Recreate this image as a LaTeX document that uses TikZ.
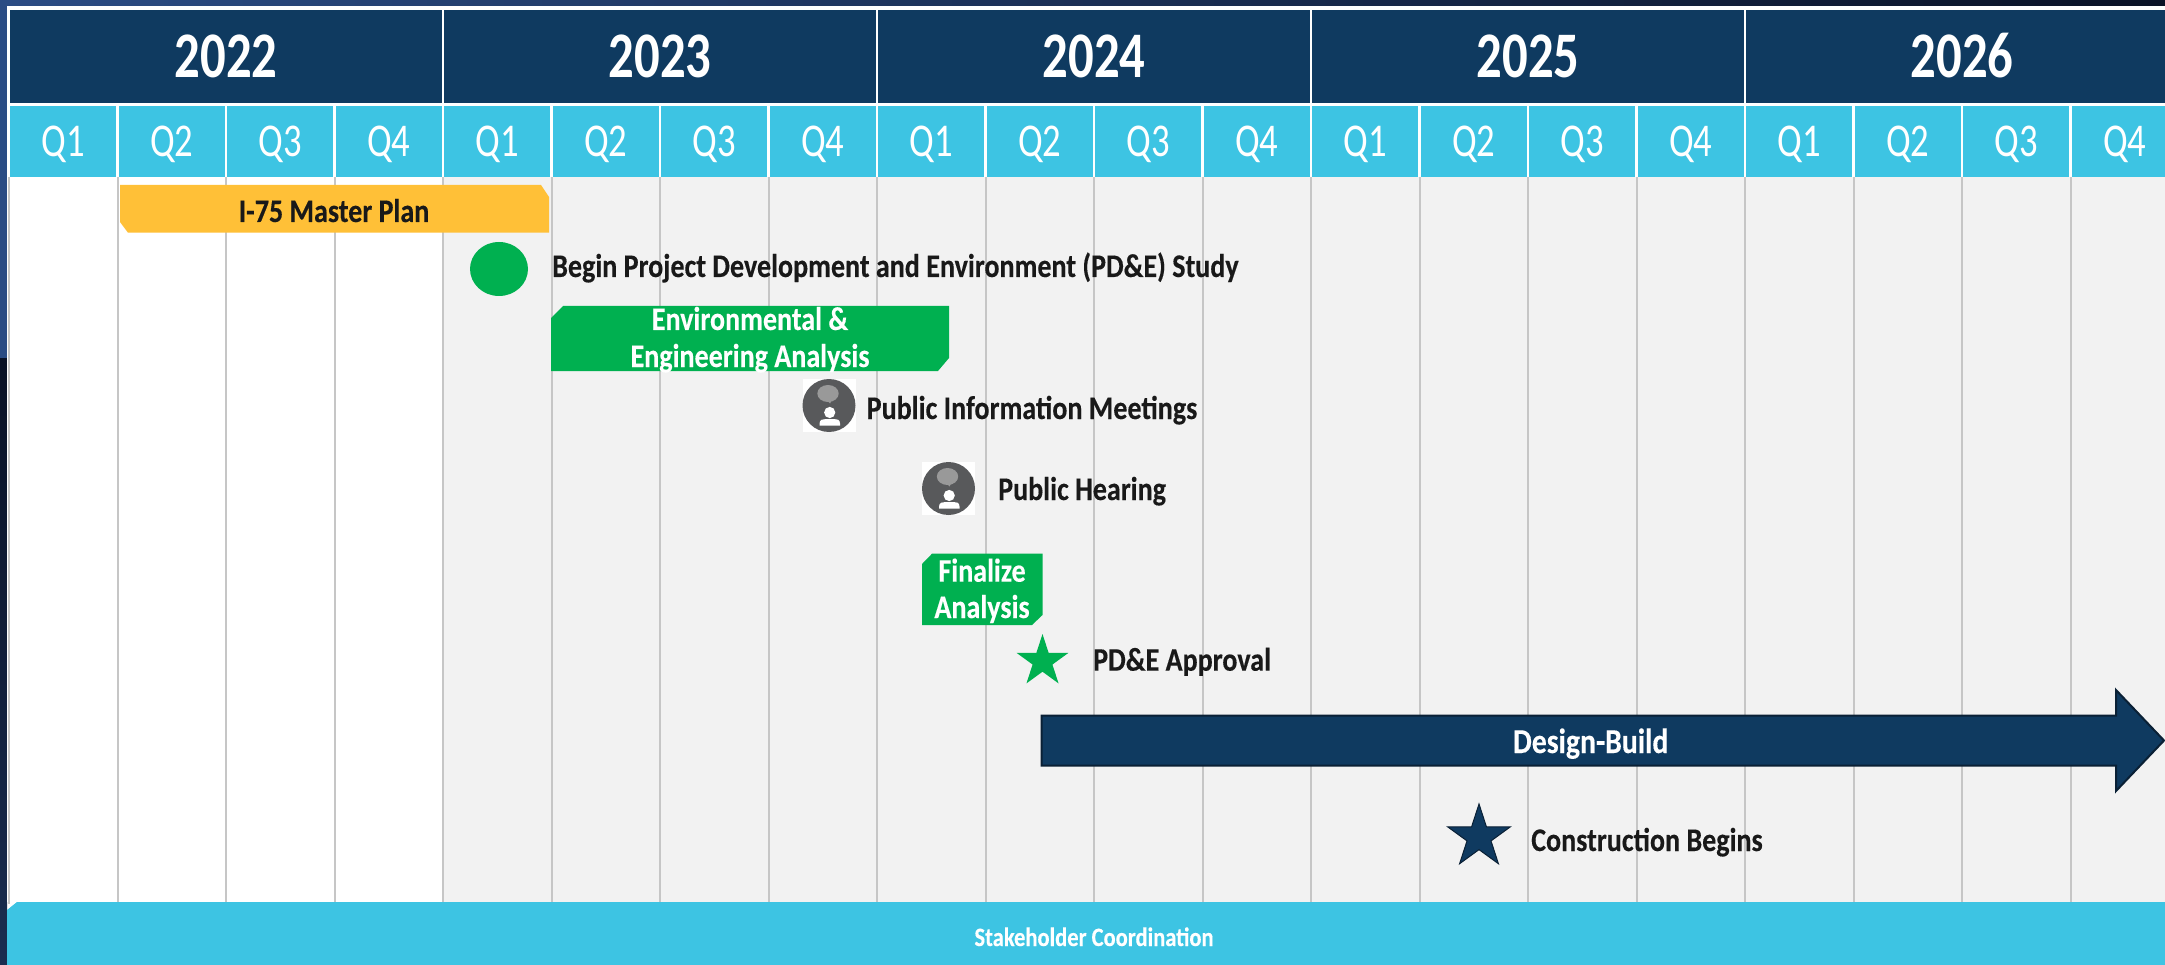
\documentclass[tikz,border=0pt]{standalone}
\usepackage{fontspec}
\usetikzlibrary{shapes.geometric}
\newfontfamily\cf[FakeStretch=0.78]{Carlito}
\newfontfamily\cfb[FakeStretch=0.85,FakeBold=0.25]{Carlito}
\definecolor{navy}{HTML}{0F3A60}
\definecolor{navyedge}{HTML}{0A2035}
\definecolor{sky}{HTML}{3DC4E3}
\definecolor{grn}{HTML}{00B050}
\definecolor{amber}{HTML}{FFC037}
\definecolor{pane}{HTML}{F2F2F2}
\definecolor{gridc}{HTML}{C6C6C6}
\definecolor{icon}{HTML}{58595B}
\definecolor{deskblue}{HTML}{2B4C84}
\definecolor{deskdark}{HTML}{0A1226}
\definecolor{deskmid}{HTML}{1A2D50}
\tikzset{
  yearlab/.style={text=white,inner sep=0,anchor=base,font=\cf\bfseries\fontsize{65}{70}\selectfont},
  qlab/.style={text=white,inner sep=0,anchor=base,font=\cf\fontsize{47}{50}\selectfont},
  dark/.style={text=black!90,inner sep=0,anchor=base west,font=\cfb\bfseries\fontsize{33}{36}\selectfont},
  lite/.style={text=white,inner sep=0,anchor=base,font=\cfb\bfseries\fontsize{33}{36}\selectfont},
  speaker/.pic={
    \fill[white] (-26.5,-26.5) rectangle (26.5,26.5);
    \fill[icon] (0,0) circle (26.5);
    \fill[black!40] (-1,-12) ellipse (10.7 and 8.5);
    \fill[black!40] (-3,-6) -- (1,-2) -- (3,-6) -- cycle;
    \fill[white] (0.7,7) circle (5.6);
    \fill[white] (-9.5,20) -- (-9.5,18) .. controls (-9.5,14) and (-6,13.5) .. (-3,13.5) -- (5,13.5) .. controls (8,13.5) and (11,14) .. (11,18) -- (11,20) -- cycle;
  }
}
\begin{document}
\begin{tikzpicture}[x=1pt,y=-1pt]
\useasboundingbox (0,0) rectangle (2165,965);
% backdrop
\shade[left color=deskblue,right color=deskdark] (0,0) rectangle (2165,6);
\fill[deskblue] (0,6) rectangle (7,359);
\shade[top color=deskdark,bottom color=deskmid] (0,359) rectangle (7,965);
% panes
\fill[white] (7,6) rectangle (2165,902);
\fill[pane] (443,177) rectangle (2165,902);
% grid lines
\foreach \k in {0,...,19}{
  \pgfmathsetmacro{\xk}{9+108.5*\k}
  \draw[gridc,line width=2] (\xk,177) -- (\xk,904);
}
% quarter cells
\foreach \k in {0,...,19}{
  \pgfmathsetmacro{\xa}{9+108.5*\k+1.2}
  \pgfmathsetmacro{\xb}{min(9+108.5*(\k+1)-1.2,2165)}
  \pgfmathsetmacro{\xc}{9+108.5*(\k+.5)}
  \pgfmathtruncatemacro{\qn}{mod(\k,4)+1}
  \fill[sky] (\xa,106) rectangle (\xb,177);
  \node[qlab] (q\k) at (\xc,157) {Q\qn};
}
% year cells
\foreach \y [count=\i from 0] in {2022,2023,2024,2025,2026}{
  \pgfmathsetmacro{\xa}{9+434*\i+1.2}
  \pgfmathsetmacro{\xb}{min(9+434*(\i+1)-1.2,2165)}
  \pgfmathsetmacro{\xc}{9+434*(\i+.5)}
  \fill[navy] (\xa,10) rectangle (\xb,103);
  \node[yearlab] (y\y) at (\xc,78) {\y};
}
% I-75 Master Plan
\fill[amber] (120,185) -- (541,185) -- (549,197) -- (549,232.7) -- (128,232.7) -- (120,222) -- cycle;
\node[dark,anchor=base] (plan) at (334,222) {I-75 Master Plan};
% begin study
\fill[grn] (499,269) ellipse (29 and 27);
\node[dark] (begin) at (552,277) {Begin Project Development and Environment (PD\&E) Study};
% env bar
\fill[grn] (563,306) -- (949,306) -- (949,358) -- (938,371) -- (551,371) -- (551,318) -- cycle;
\node[lite] (env1) at (750,330) {Environmental \&};
\node[lite] (env2) at (750,367) {Engineering Analysis};
% meetings
\pic at (829,405.5) {speaker};
\node[dark] (pim) at (866.5,419) {Public Information Meetings};
\pic at (948.5,488.5) {speaker};
\node[dark] (hear) at (998,500) {Public Hearing};
% finalize
\fill[grn] (932,553.7) -- (1042.5,553.7) -- (1042.5,615) -- (1032,625) -- (922,625) -- (922,564) -- cycle;
\node[lite] (fin1) at (982,581.7) {Finalize};
\node[lite] (fin2) at (982,618) {Analysis};
% approval
\node[star,star points=5,star point ratio=2.618,fill=grn,inner sep=0,minimum size=54.6] (appr) at (1042.5,661.3) {};
\node[dark] (apprl) at (1093,670.7) {PD\&E Approval};
% design-build
\draw[navyedge,line width=2,fill=navy,line join=miter] (1041.5,715.5) -- (2116,715.5) -- (2116,690) -- (2164,740.5) -- (2116,791) -- (2116,765.5) -- (1041.5,765.5) -- cycle;
\node[lite,anchor=base,font=\cfb\bfseries\fontsize{35}{38}\selectfont] (db) at (1590.7,753) {Design-Build};
% construction
\node[star,star points=5,star point ratio=2.618,fill=navy,draw=navyedge,line width=1,inner sep=0,minimum size=66] (cons) at (1479,837) {};
\node[dark] (consl) at (1531,851) {Construction Begins};
% stakeholder
\fill[sky] (17,902) -- (2165,902) -- (2165,965) -- (7,965) -- (7,910) -- cycle;
\node[lite,font=\cfb\bfseries\fontsize{26.5}{29}\selectfont] (stake) at (1094,946) {Stakeholder Coordination};
\end{tikzpicture}
\end{document}
